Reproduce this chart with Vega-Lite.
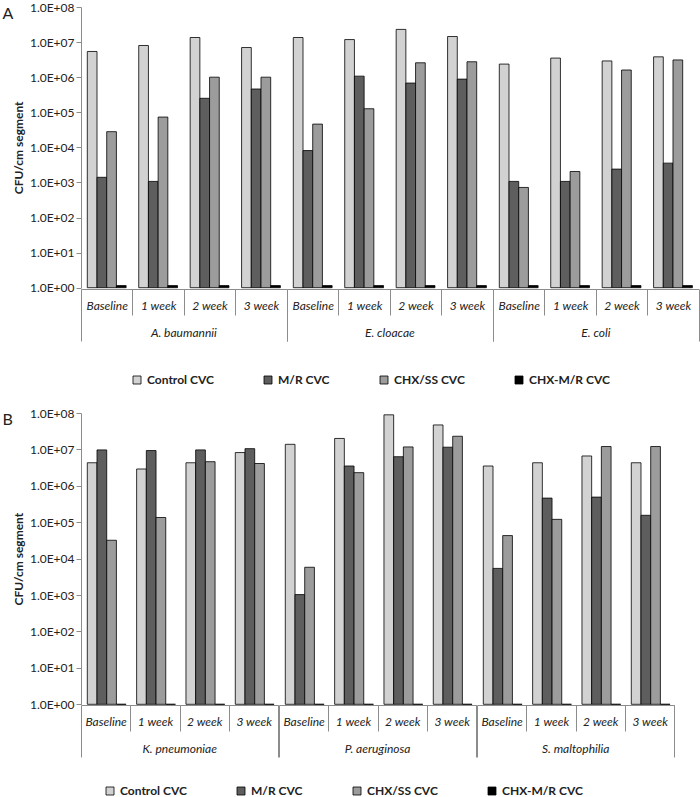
{
  "$schema": "https://vega.github.io/schema/vega-lite/v6.json",
  "background": "white",
  "padding": {"top": 1, "left": 2, "right": 1, "bottom": 0},
  "config": {
    "font": "Lato",
    "view": {"stroke": null},
    "axis": {"labelFont": "Lato", "labelFontSize": 12, "labelColor": "#222222", "domainColor": "#8c8c8c", "tickColor": "#8c8c8c", "grid": false, "titleFont": "Lato", "titleColor": "#222222"},
    "legend": {"orient": "bottom", "direction": "horizontal", "columns": 4, "columnPadding": 48, "symbolType": "square", "symbolSize": 64, "symbolStrokeColor": "black", "symbolStrokeWidth": 0.8, "labelFont": "Lato", "labelFontSize": 12, "labelFontWeight": "bold", "labelColor": "#222222", "offset": 29, "layout": {"anchor": "middle"}},
    "title": {"font": "Lato", "fontSize": 16, "fontWeight": "normal", "color": "#222222"}
  },
  "datasets": {
    "a": [
      {"organism": "A. baumannii", "time": "Baseline", "treatment": "Control CVC", "cfu": 5400000},
      {"organism": "A. baumannii", "time": "Baseline", "treatment": "M/R CVC", "cfu": 1400},
      {"organism": "A. baumannii", "time": "Baseline", "treatment": "CHX/SS CVC", "cfu": 28000},
      {"organism": "A. baumannii", "time": "Baseline", "treatment": "CHX-M/R CVC", "cfu": 1.15},
      {"organism": "A. baumannii", "time": "1 week", "treatment": "Control CVC", "cfu": 8000000},
      {"organism": "A. baumannii", "time": "1 week", "treatment": "M/R CVC", "cfu": 1070},
      {"organism": "A. baumannii", "time": "1 week", "treatment": "CHX/SS CVC", "cfu": 73000},
      {"organism": "A. baumannii", "time": "1 week", "treatment": "CHX-M/R CVC", "cfu": 1.15},
      {"organism": "A. baumannii", "time": "2 week", "treatment": "Control CVC", "cfu": 13500000},
      {"organism": "A. baumannii", "time": "2 week", "treatment": "M/R CVC", "cfu": 250000},
      {"organism": "A. baumannii", "time": "2 week", "treatment": "CHX/SS CVC", "cfu": 1000000},
      {"organism": "A. baumannii", "time": "2 week", "treatment": "CHX-M/R CVC", "cfu": 1.15},
      {"organism": "A. baumannii", "time": "3 week", "treatment": "Control CVC", "cfu": 7000000},
      {"organism": "A. baumannii", "time": "3 week", "treatment": "M/R CVC", "cfu": 460000},
      {"organism": "A. baumannii", "time": "3 week", "treatment": "CHX/SS CVC", "cfu": 1000000},
      {"organism": "A. baumannii", "time": "3 week", "treatment": "CHX-M/R CVC", "cfu": 1.15},
      {"organism": "E. cloacae", "time": "Baseline", "treatment": "Control CVC", "cfu": 13500000},
      {"organism": "E. cloacae", "time": "Baseline", "treatment": "M/R CVC", "cfu": 8100},
      {"organism": "E. cloacae", "time": "Baseline", "treatment": "CHX/SS CVC", "cfu": 46000},
      {"organism": "E. cloacae", "time": "Baseline", "treatment": "CHX-M/R CVC", "cfu": 1.15},
      {"organism": "E. cloacae", "time": "1 week", "treatment": "Control CVC", "cfu": 11800000},
      {"organism": "E. cloacae", "time": "1 week", "treatment": "M/R CVC", "cfu": 1070000},
      {"organism": "E. cloacae", "time": "1 week", "treatment": "CHX/SS CVC", "cfu": 126000},
      {"organism": "E. cloacae", "time": "1 week", "treatment": "CHX-M/R CVC", "cfu": 1.15},
      {"organism": "E. cloacae", "time": "2 week", "treatment": "Control CVC", "cfu": 23000000},
      {"organism": "E. cloacae", "time": "2 week", "treatment": "M/R CVC", "cfu": 680000},
      {"organism": "E. cloacae", "time": "2 week", "treatment": "CHX/SS CVC", "cfu": 2570000},
      {"organism": "E. cloacae", "time": "2 week", "treatment": "CHX-M/R CVC", "cfu": 1.15},
      {"organism": "E. cloacae", "time": "3 week", "treatment": "Control CVC", "cfu": 14400000},
      {"organism": "E. cloacae", "time": "3 week", "treatment": "M/R CVC", "cfu": 880000},
      {"organism": "E. cloacae", "time": "3 week", "treatment": "CHX/SS CVC", "cfu": 2750000},
      {"organism": "E. cloacae", "time": "3 week", "treatment": "CHX-M/R CVC", "cfu": 1.15},
      {"organism": "E. coli", "time": "Baseline", "treatment": "Control CVC", "cfu": 2360000},
      {"organism": "E. coli", "time": "Baseline", "treatment": "M/R CVC", "cfu": 1070},
      {"organism": "E. coli", "time": "Baseline", "treatment": "CHX/SS CVC", "cfu": 720},
      {"organism": "E. coli", "time": "Baseline", "treatment": "CHX-M/R CVC", "cfu": 1.15},
      {"organism": "E. coli", "time": "1 week", "treatment": "Control CVC", "cfu": 3500000},
      {"organism": "E. coli", "time": "1 week", "treatment": "M/R CVC", "cfu": 1070},
      {"organism": "E. coli", "time": "1 week", "treatment": "CHX/SS CVC", "cfu": 2050},
      {"organism": "E. coli", "time": "1 week", "treatment": "CHX-M/R CVC", "cfu": 1.15},
      {"organism": "E. coli", "time": "2 week", "treatment": "Control CVC", "cfu": 2900000},
      {"organism": "E. coli", "time": "2 week", "treatment": "M/R CVC", "cfu": 2400},
      {"organism": "E. coli", "time": "2 week", "treatment": "CHX/SS CVC", "cfu": 1600000},
      {"organism": "E. coli", "time": "2 week", "treatment": "CHX-M/R CVC", "cfu": 1.15},
      {"organism": "E. coli", "time": "3 week", "treatment": "Control CVC", "cfu": 3800000},
      {"organism": "E. coli", "time": "3 week", "treatment": "M/R CVC", "cfu": 3550},
      {"organism": "E. coli", "time": "3 week", "treatment": "CHX/SS CVC", "cfu": 3100000},
      {"organism": "E. coli", "time": "3 week", "treatment": "CHX-M/R CVC", "cfu": 1.15}
    ],
    "b": [
      {"organism": "K. pneumoniae", "time": "Baseline", "treatment": "Control CVC", "cfu": 4300000},
      {"organism": "K. pneumoniae", "time": "Baseline", "treatment": "M/R CVC", "cfu": 9700000},
      {"organism": "K. pneumoniae", "time": "Baseline", "treatment": "CHX/SS CVC", "cfu": 32000},
      {"organism": "K. pneumoniae", "time": "Baseline", "treatment": "CHX-M/R CVC", "cfu": 1},
      {"organism": "K. pneumoniae", "time": "1 week", "treatment": "Control CVC", "cfu": 2900000},
      {"organism": "K. pneumoniae", "time": "1 week", "treatment": "M/R CVC", "cfu": 9300000},
      {"organism": "K. pneumoniae", "time": "1 week", "treatment": "CHX/SS CVC", "cfu": 135000},
      {"organism": "K. pneumoniae", "time": "1 week", "treatment": "CHX-M/R CVC", "cfu": 1},
      {"organism": "K. pneumoniae", "time": "2 week", "treatment": "Control CVC", "cfu": 4300000},
      {"organism": "K. pneumoniae", "time": "2 week", "treatment": "M/R CVC", "cfu": 9700000},
      {"organism": "K. pneumoniae", "time": "2 week", "treatment": "CHX/SS CVC", "cfu": 4600000},
      {"organism": "K. pneumoniae", "time": "2 week", "treatment": "CHX-M/R CVC", "cfu": 1},
      {"organism": "K. pneumoniae", "time": "3 week", "treatment": "Control CVC", "cfu": 8200000},
      {"organism": "K. pneumoniae", "time": "3 week", "treatment": "M/R CVC", "cfu": 10500000},
      {"organism": "K. pneumoniae", "time": "3 week", "treatment": "CHX/SS CVC", "cfu": 4100000},
      {"organism": "K. pneumoniae", "time": "3 week", "treatment": "CHX-M/R CVC", "cfu": 1},
      {"organism": "P. aeruginosa", "time": "Baseline", "treatment": "Control CVC", "cfu": 13800000},
      {"organism": "P. aeruginosa", "time": "Baseline", "treatment": "M/R CVC", "cfu": 1030},
      {"organism": "P. aeruginosa", "time": "Baseline", "treatment": "CHX/SS CVC", "cfu": 5800},
      {"organism": "P. aeruginosa", "time": "Baseline", "treatment": "CHX-M/R CVC", "cfu": 1},
      {"organism": "P. aeruginosa", "time": "1 week", "treatment": "Control CVC", "cfu": 20000000},
      {"organism": "P. aeruginosa", "time": "1 week", "treatment": "M/R CVC", "cfu": 3500000},
      {"organism": "P. aeruginosa", "time": "1 week", "treatment": "CHX/SS CVC", "cfu": 2300000},
      {"organism": "P. aeruginosa", "time": "1 week", "treatment": "CHX-M/R CVC", "cfu": 1},
      {"organism": "P. aeruginosa", "time": "2 week", "treatment": "Control CVC", "cfu": 89000000},
      {"organism": "P. aeruginosa", "time": "2 week", "treatment": "M/R CVC", "cfu": 6300000},
      {"organism": "P. aeruginosa", "time": "2 week", "treatment": "CHX/SS CVC", "cfu": 11700000},
      {"organism": "P. aeruginosa", "time": "2 week", "treatment": "CHX-M/R CVC", "cfu": 1},
      {"organism": "P. aeruginosa", "time": "3 week", "treatment": "Control CVC", "cfu": 47000000},
      {"organism": "P. aeruginosa", "time": "3 week", "treatment": "M/R CVC", "cfu": 11500000},
      {"organism": "P. aeruginosa", "time": "3 week", "treatment": "CHX/SS CVC", "cfu": 23000000},
      {"organism": "P. aeruginosa", "time": "3 week", "treatment": "CHX-M/R CVC", "cfu": 1},
      {"organism": "S. maltophilia", "time": "Baseline", "treatment": "Control CVC", "cfu": 3500000},
      {"organism": "S. maltophilia", "time": "Baseline", "treatment": "M/R CVC", "cfu": 5400},
      {"organism": "S. maltophilia", "time": "Baseline", "treatment": "CHX/SS CVC", "cfu": 43000},
      {"organism": "S. maltophilia", "time": "Baseline", "treatment": "CHX-M/R CVC", "cfu": 1},
      {"organism": "S. maltophilia", "time": "1 week", "treatment": "Control CVC", "cfu": 4300000},
      {"organism": "S. maltophilia", "time": "1 week", "treatment": "M/R CVC", "cfu": 460000},
      {"organism": "S. maltophilia", "time": "1 week", "treatment": "CHX/SS CVC", "cfu": 120000},
      {"organism": "S. maltophilia", "time": "1 week", "treatment": "CHX-M/R CVC", "cfu": 1},
      {"organism": "S. maltophilia", "time": "2 week", "treatment": "Control CVC", "cfu": 6600000},
      {"organism": "S. maltophilia", "time": "2 week", "treatment": "M/R CVC", "cfu": 490000},
      {"organism": "S. maltophilia", "time": "2 week", "treatment": "CHX/SS CVC", "cfu": 12000000},
      {"organism": "S. maltophilia", "time": "2 week", "treatment": "CHX-M/R CVC", "cfu": 1},
      {"organism": "S. maltophilia", "time": "3 week", "treatment": "Control CVC", "cfu": 4300000},
      {"organism": "S. maltophilia", "time": "3 week", "treatment": "M/R CVC", "cfu": 155000},
      {"organism": "S. maltophilia", "time": "3 week", "treatment": "CHX/SS CVC", "cfu": 12000000},
      {"organism": "S. maltophilia", "time": "3 week", "treatment": "CHX-M/R CVC", "cfu": 1}
    ]
  },
  "spacing": 21,
  "resolve": {"scale": {"color": "independent"}, "legend": {"color": "independent"}},
  "vconcat": [
    {
      "title": {"text": "A", "anchor": "start", "frame": "bounds", "dx": -10, "offset": -21},
      "data": {"name": "a"},
      "spacing": 0,
      "facet": {"column": {"field": "organism", "type": "nominal", "sort": ["A. baumannii", "E. cloacae", "E. coli"], "header": {"title": null, "labelOrient": "bottom", "labelFont": "Lato", "labelFontStyle": "italic", "labelFontSize": 12, "labelColor": "#222222", "labelPadding": -14}}},
      "spec": {
        "width": 205.7,
        "height": 280.7,
        "mark": {"type": "bar", "stroke": "black", "strokeWidth": 0.8},
        "encoding": {
          "x": {"field": "time", "type": "nominal", "sort": ["Baseline", "1 week", "2 week", "3 week"], "scale": {"paddingInner": 0, "paddingOuter": 0}, "axis": {"title": null, "labelAngle": 0, "labelFontStyle": "italic", "tickBand": "extent", "tickSize": {"condition": {"test": "datum.extra || datum.value == '3 week'", "value": 52}, "value": 26}, "labelPadding": {"condition": {"test": "datum.value == '3 week'", "value": -41}, "value": -15}}},
          "xOffset": {"field": "treatment", "type": "nominal", "sort": ["Control CVC", "M/R CVC", "CHX/SS CVC", "CHX-M/R CVC"], "scale": {"paddingInner": 0, "paddingOuter": 0.65}},
          "y": {"field": "cfu", "type": "quantitative", "stack": null, "scale": {"type": "log", "domain": [1, 100000000]}, "axis": {"title": "CFU/cm segment", "titleFontWeight": "bold", "titleFontSize": 12, "values": [1, 10, 100, 1000, 10000, 100000, 1000000, 10000000, 100000000], "labelExpr": "'1.0E+0' + round(log(datum.value)/LN10)", "tickSize": 5}},
          "color": {"field": "treatment", "type": "nominal", "sort": ["Control CVC", "M/R CVC", "CHX/SS CVC", "CHX-M/R CVC"], "scale": {"domain": ["Control CVC", "M/R CVC", "CHX/SS CVC", "CHX-M/R CVC"], "range": ["#d2d2d2", "#5e5e5e", "#9c9c9c", "#000000"]}, "legend": {"title": " ", "titleOrient": "left", "titlePadding": 30, "offset": 32}}
        }
      }
    },
    {
      "title": {"text": "B", "anchor": "start", "frame": "bounds", "dx": -10, "offset": -21},
      "data": {"name": "b"},
      "spacing": 0,
      "facet": {"column": {"field": "organism", "type": "nominal", "sort": ["K. pneumoniae", "P. aeruginosa", "S. maltophilia"], "header": {"title": null, "labelOrient": "bottom", "labelFont": "Lato", "labelFontStyle": "italic", "labelFontSize": 12, "labelColor": "#222222", "labelPadding": -14}}},
      "spec": {
        "width": 197.3,
        "height": 291.3,
        "mark": {"type": "bar", "stroke": "black", "strokeWidth": 0.8},
        "encoding": {
          "x": {"field": "time", "type": "nominal", "sort": ["Baseline", "1 week", "2 week", "3 week"], "scale": {"paddingInner": 0, "paddingOuter": 0}, "axis": {"title": null, "labelAngle": 0, "labelFontStyle": "italic", "tickBand": "extent", "tickSize": {"condition": {"test": "datum.extra || datum.value == '3 week'", "value": 52}, "value": 26}, "labelPadding": {"condition": {"test": "datum.value == '3 week'", "value": -41}, "value": -15}}},
          "xOffset": {"field": "treatment", "type": "nominal", "sort": ["Control CVC", "M/R CVC", "CHX/SS CVC", "CHX-M/R CVC"], "scale": {"paddingInner": 0, "paddingOuter": 0.6}},
          "y": {"field": "cfu", "type": "quantitative", "stack": null, "scale": {"type": "log", "domain": [1, 100000000]}, "axis": {"title": "CFU/cm segment", "titleFontWeight": "bold", "titleFontSize": 12, "values": [1, 10, 100, 1000, 10000, 100000, 1000000, 10000000, 100000000], "labelExpr": "'1.0E+0' + round(log(datum.value)/LN10)", "tickSize": 5}},
          "color": {"field": "treatment", "type": "nominal", "sort": ["Control CVC", "M/R CVC", "CHX/SS CVC", "CHX-M/R CVC"], "scale": {"domain": ["Control CVC", "M/R CVC", "CHX/SS CVC", "CHX-M/R CVC"], "range": ["#d2d2d2", "#5e5e5e", "#9c9c9c", "#000000"]}, "legend": {"title": null, "offset": 27}}
        }
      }
    }
  ]
}
